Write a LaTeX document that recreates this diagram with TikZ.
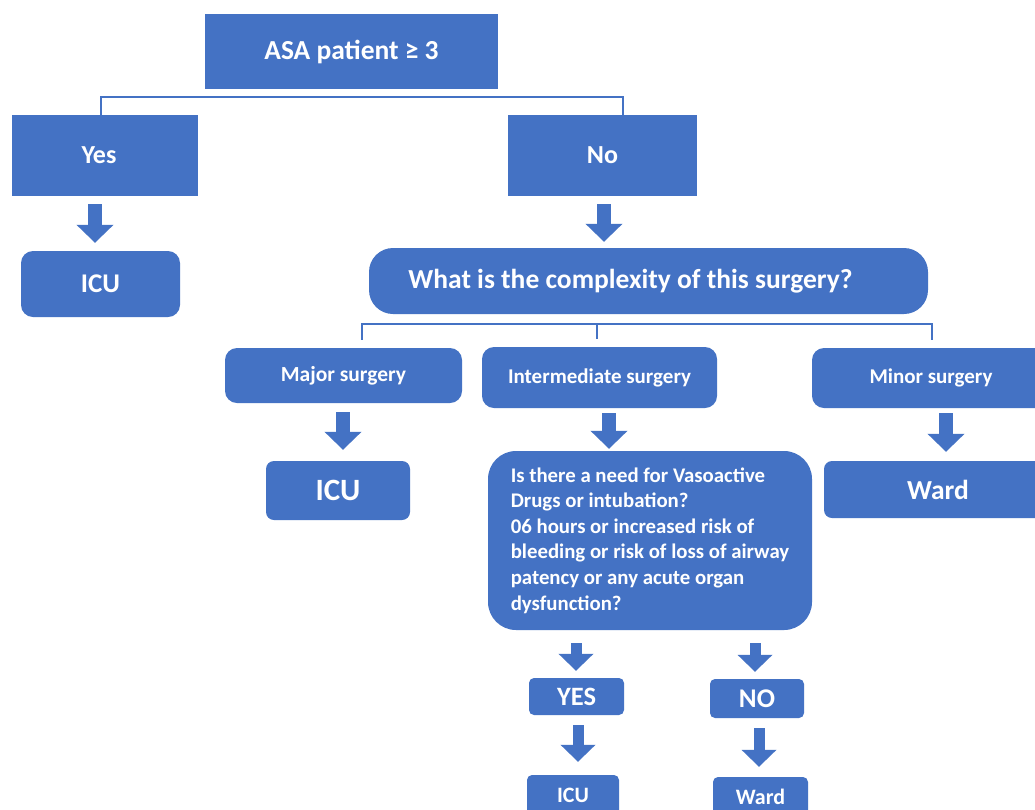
\documentclass[tikz,border=0pt]{standalone}
\usepackage{fontspec}
\setmainfont{Carlito}
\usetikzlibrary{arrows.meta}
\definecolor{obl}{HTML}{4472C4}
\newcommand{\fsz}[1]{\fontsize{#1}{#1}\selectfont\bfseries}
\begin{document}
\begin{tikzpicture}[x=1pt,y=-1pt,
  box/.style={fill=obl, text=white, inner sep=0pt, align=center},
  rbox/.style={box, rounded corners=#1},
  conn/.style={draw=obl, line width=1.8pt},
  bigarrow/.style={draw=obl, line width=14pt, -{Triangle[width=36pt,length=18pt]}},
  smallarrow/.style={draw=obl, line width=11pt, -{Triangle[width=34pt,length=17pt]}},
]
\clip (0,0) rectangle (1035,809);
\fill[white] (0,0) rectangle (1035,809);

% top level
\node[box, minimum width=293pt, minimum height=75pt, font=\fsz{27.5}] (asa) at (351.5,51.5) {ASA patient ≥ 3};
\node[box, minimum width=186pt, minimum height=81pt, font=\fsz{26}] (yes) at (105,155.5) {Yes\hspace*{12pt}};
\node[box, minimum width=189pt, minimum height=81pt, font=\fsz{26}] (no) at (602.5,155.5) {No};
\node[rbox=12pt, minimum width=159pt, minimum height=66pt, font=\fsz{27}] (icu1) at (100.5,284) {ICU};
\node[rbox=24pt, minimum width=559pt, minimum height=66pt, font=\fsz{27.5}] (cx) at (648.5,281) {What is the complexity of this surgery?\hspace*{36pt}};

% second level
\node[rbox=12pt, minimum width=237pt, minimum height=55pt, font=\fsz{21.5}] (major) at (343.5,375.5) {Major surgery};
\node[rbox=12pt, minimum width=235pt, minimum height=61pt, font=\fsz{21}] (inter) at (599.5,377.5) {Intermediate surgery};
\node[rbox=12pt, minimum width=238pt, minimum height=60pt, font=\fsz{21}] (minor) at (931,378) {Minor surgery};

\node[rbox=8pt, minimum width=144pt, minimum height=59pt, font=\fsz{31}] (icu2) at (338,490.5) {ICU};
\node[rbox=28pt, minimum width=324pt, minimum height=179pt, align=left,
      font=\fontsize{20.8}{25.6}\selectfont\bfseries] (q) at (650,540.5)
  {Is there a need for Vasoactive\\Drugs or intubation?\\06 hours or increased risk of\\bleeding or risk of loss of airway\\patency or any acute organ\\dysfunction?};
\node[rbox=8pt, minimum width=228pt, minimum height=57pt, font=\fsz{27.5}] (ward1) at (938,489.5) {Ward};

\node[rbox=5pt, minimum width=95pt, minimum height=37pt, font=\fsz{26.5}] (yesb) at (576.5,696.5) {YES};
\node[rbox=5pt, minimum width=94pt, minimum height=39pt, font=\fsz{27}] (nob) at (757,698.5) {NO};
\node[rbox=5pt, minimum width=92pt, minimum height=40pt, font=\fsz{22}] (icu3) at (573,795) {ICU};
\node[rbox=5pt, minimum width=95pt, minimum height=40pt, font=\fsz{22}] (ward2) at (760.5,797) {Ward};

% brackets
\draw[conn] ([xshift=-4pt]yes.north) -- ++(0,-18) -| ([xshift=20.5pt]no.north);
\draw[conn] ([xshift=18.5pt,yshift=8pt]major.north) -- ++(0,-16) -| ([xshift=1pt,yshift=8pt]minor.north);
\draw[conn] ([xshift=-2.5pt,yshift=8pt]inter.north) -- ++(0,-16);

% block arrows
\draw[bigarrow] ([xshift=-10pt,yshift=-8pt]yes.south) -- ([xshift=-5.5pt,yshift=8pt]icu1.north);
\draw[bigarrow] ([xshift=1.5pt,yshift=-8pt]no.south) -- ([xshift=-44.5pt,yshift=6pt]cx.north);
\draw[bigarrow] ([xshift=-0.5pt,yshift=-9pt]major.south) -- ([xshift=5pt,yshift=11pt]icu2.north);
\draw[bigarrow] ([xshift=9.5pt,yshift=-5pt]inter.south) -- ([xshift=-41pt,yshift=2pt]q.north);
\draw[bigarrow] ([xshift=15pt,yshift=-5pt]minor.south) -- ([xshift=8pt,yshift=9pt]ward1.north);
\draw[smallarrow] ([xshift=-74pt,yshift=-13pt]q.south) -- ([xshift=-0.5pt,yshift=7pt]yesb.north);
\draw[smallarrow] ([xshift=105pt,yshift=-13pt]q.south) -- ([xshift=-2pt,yshift=7pt]nob.north);
\draw[smallarrow] ([xshift=1.5pt,yshift=-10pt]yesb.south) -- ([xshift=5pt,yshift=13pt]icu3.north);
\draw[smallarrow] ([xshift=2pt,yshift=-10pt]nob.south) -- ([xshift=-1.5pt,yshift=10pt]ward2.north);
\end{tikzpicture}
\end{document}
